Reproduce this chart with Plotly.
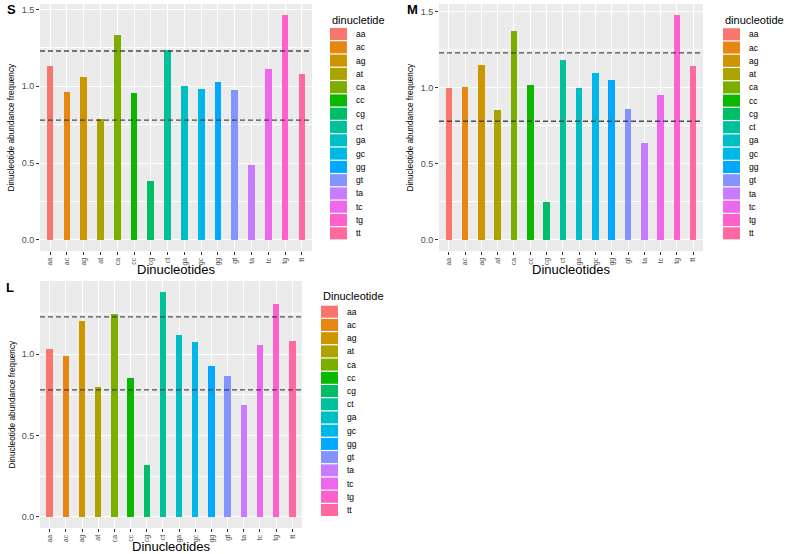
import plotly.graph_objects as go

W, H = 799, 554

categories = ["aa", "ac", "ag", "at", "ca", "cc", "cg", "ct",
              "ga", "gc", "gg", "gt", "ta", "tc", "tg", "tt"]

values_S = [1.13, 0.96, 1.06, 0.79, 1.335, 0.955, 0.38, 1.235,
            1.005, 0.985, 1.03, 0.975, 0.49, 1.11, 1.463, 1.083]
values_M = [1.00, 1.007, 1.148, 0.853, 1.375, 1.016, 0.246, 1.185,
            0.998, 1.10, 1.049, 0.86, 0.64, 0.952, 1.478, 1.146]
values_L = [1.029, 0.99, 1.207, 0.799, 1.25, 0.852, 0.318, 1.381,
            1.115, 1.074, 0.93, 0.865, 0.689, 1.059, 1.307, 1.084]

thresholds = [1.23, 0.78]

y_tickvals = [0.0, 0.5, 1.0, 1.5]
y_ticktext = ["0.0", "0.5", "1.0", "1.5"]

colors = ["#F8766D", "#E68613", "#CD9600", "#ABA300", "#7CAE00", "#0CB702",
          "#00BE67", "#00C19A", "#00BFC4", "#00B8E7", "#00A9FF", "#8494FF",
          "#C77CFF", "#ED68ED", "#FF61CC", "#FF68A1"]

panel_labels = ["S", "M", "L"]
legend_titles = ["dinucletide", "dinucleotide", "Dinucleotide"]
x_title = "Dinucleotides"
y_title = "Dinucleotide abundance frequency"

FONT = "Liberation Sans, Arial, sans-serif"


def px_x(p):
    return p / W


def px_y(p):
    return 1 - p / H


# panel geometry in pixels: (left, right, top, bottom)
panels = [
    dict(box=(40, 312, 4, 251), leg=(330, 20, 34.0, 233.3), lab=(11, 9)),
    dict(box=(439, 703, 4, 251), leg=(723, 20, 34.3, 233.3), lab=(412, 9)),
    dict(box=(40, 302, 281, 528), leg=(321, 296, 311.7, 510.0), lab=(10, 287)),
]
all_values = [values_S, values_M, values_L]

fig = go.Figure()
shapes = []
annotations = []

for i, (pan, vals) in enumerate(zip(panels, all_values)):
    n = "" if i == 0 else str(i + 1)
    xa, ya = "x" + n, "y" + n
    l, r, t, b = pan["box"]
    fig.add_trace(go.Bar(
        x=categories, y=vals, width=0.4, marker=dict(color=colors, line=dict(width=0)),
        showlegend=False, xaxis=xa, yaxis=ya, hoverinfo="x+y"))
    ymax = max(vals)
    yr = [-0.05 * ymax, 1.05 * ymax]
    fig.layout["xaxis" + n] = dict(
        domain=[px_x(l), px_x(r)], anchor=ya, type="category", automargin=False,
        range=[-0.6, len(categories) - 0.4],
        showgrid=True, gridcolor="white", gridwidth=1.1,
        ticks="outside", ticklen=3, tickcolor="#333333", tickwidth=1,
        tickangle=-90, tickfont=dict(family=FONT, size=7, color="#4D4D4D"),
        zeroline=False, showline=False, fixedrange=True)
    fig.layout["yaxis" + n] = dict(
        domain=[px_y(b), px_y(t)], anchor=xa, range=yr, automargin=False,
        tickvals=y_tickvals, ticktext=y_ticktext,
        showgrid=True, gridcolor="white", gridwidth=1.1,
        minor=dict(tickvals=[0.25, 0.75, 1.25], showgrid=True,
                   gridcolor="white", gridwidth=0.5, ticks=""),
        ticks="outside", ticklen=3, tickcolor="#333333", tickwidth=1,
        tickfont=dict(family=FONT, size=9, color="#4D4D4D"),
        zeroline=False, showline=False, fixedrange=True)
    for th in thresholds:
        shapes.append(dict(type="line", xref=xa + " domain", yref=ya,
                           x0=0, x1=1, y0=th, y1=th, layer="above",
                           line=dict(color="rgba(50,50,50,0.85)", width=1.3,
                                     dash="5px,3px")))
    # axis titles
    annotations.append(dict(text=x_title, xref="paper", yref="paper",
                            x=px_x((l + r) / 2), y=px_y(b + 18), xanchor="center",
                            yanchor="middle", showarrow=False,
                            font=dict(family=FONT, size=13, color="black")))
    annotations.append(dict(text=y_title, xref="paper", yref="paper",
                            x=px_x(l - 29), y=px_y((t + b) / 2), xanchor="center",
                            yanchor="middle", showarrow=False, textangle=-90,
                            font=dict(family=FONT, size=8.3, color="black")))
    # panel label
    lx, ly = pan["lab"]
    annotations.append(dict(text="<b>%s</b>" % panel_labels[i], xref="paper", yref="paper",
                            x=px_x(lx), y=px_y(ly), xanchor="center", yanchor="middle",
                            showarrow=False, font=dict(family=FONT, size=13, color="black")))
    # legend
    gx, gy, c0, c1 = pan["leg"]
    annotations.append(dict(text=legend_titles[i], xref="paper", yref="paper",
                            x=px_x(gx), y=px_y(gy), xanchor="left", yanchor="middle",
                            showarrow=False, font=dict(family=FONT, size=11, color="black")))
    pitch = (c1 - c0) / (len(categories) - 1)
    for k, (cat, col) in enumerate(zip(categories, colors)):
        cy = c0 + k * pitch
        shapes.append(dict(type="rect", xref="paper", yref="paper",
                           x0=px_x(gx), x1=px_x(gx + 17),
                           y0=px_y(cy + pitch / 2 - 0.6), y1=px_y(cy - pitch / 2 + 0.6),
                           fillcolor=col, line=dict(width=0)))
        annotations.append(dict(text=cat, xref="paper", yref="paper",
                                x=px_x(gx + 24), y=px_y(cy), xanchor="left",
                                yanchor="middle", showarrow=False,
                                font=dict(family=FONT, size=8.5, color="black")))

fig.update_layout(
    width=W, height=H, margin=dict(l=0, r=0, t=0, b=0, autoexpand=False),
    paper_bgcolor="white", plot_bgcolor="#EBEBEB",
    shapes=shapes, annotations=annotations, bargap=0,
    font=dict(family=FONT),
)

fig.write_html("out.html", config={"displayModeBar": False},
               post_script="document.body.style.margin='0';document.body.style.overflow='hidden';")
